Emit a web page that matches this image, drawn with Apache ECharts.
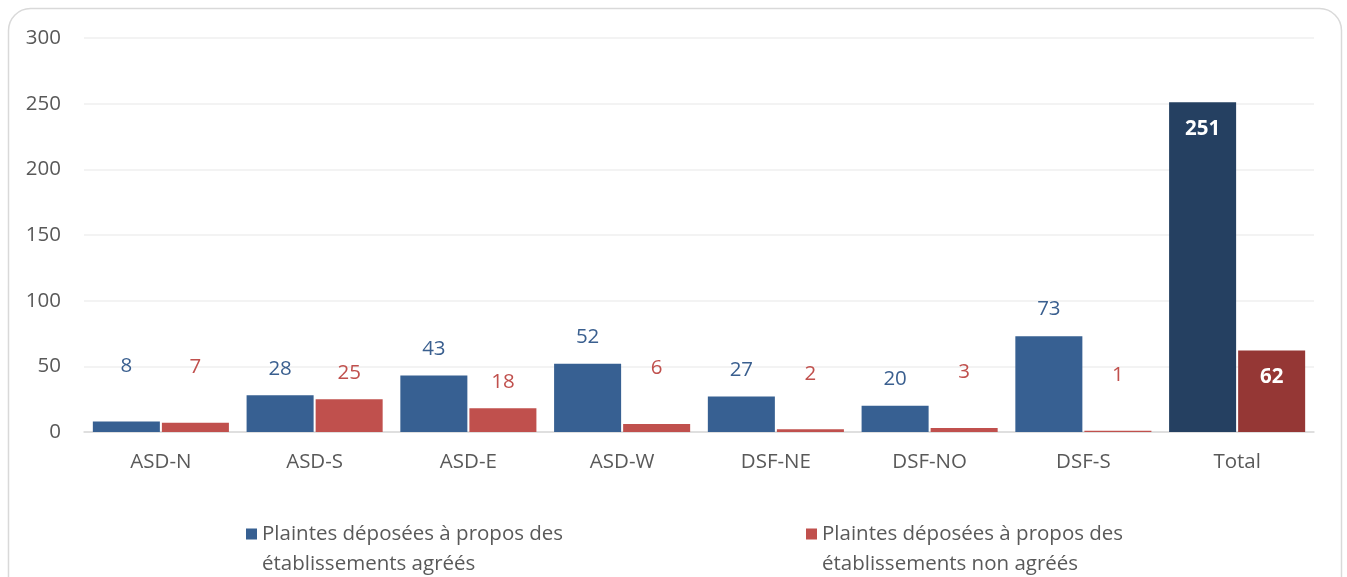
<!DOCTYPE html>
<html>
<head>
<meta charset="utf-8">
<script src="https://cdn.jsdelivr.net/npm/echarts@6/dist/echarts.min.js"></script>
<style>
  html, body { margin: 0; padding: 0; background: #fff; }
  #main { width: 1347px; height: 577px; }
</style>
</head>
<body>
<div id="main"></div>
<script>
var categories = ['ASD-N', 'ASD-S', 'ASD-E', 'ASD-W', 'DSF-NE', 'DSF-NO', 'DSF-S', 'Total'];
var agrees = [8, 28, 43, 52, 27, 20, 73, 251];
var nonAgrees = [7, 25, 18, 6, 2, 3, 1, 62];
var yTicks = [0, 50, 100, 150, 200, 250, 300];

var nameA = 'Plaintes déposées à propos des établissements agréés';
var nameB = 'Plaintes déposées à propos des établissements non agréés';

var font = 'Open Sans';
var fs = 20.5;

// petites valeurs : étiquette remontée comme dans l'original
function buildData(values, totalColor) {
    return values.map(function (v, i) {
        if (categories[i] === 'Total') {
            return {
                value: v,
                itemStyle: { color: totalColor },
                label: { position: 'insideTop', distance: 16, color: '#fff', fontWeight: 'bold' }
            };
        }
        return {
            value: v,
            label: { distance: v < 10 ? 45 : 16 }
        };
    });
}

var myChart = echarts.init(document.getElementById('main'));

var legendIcon = 'path://M0,0h0.01v0.01h-0.01z M0,9.5h11v11h-11z M0,60h0.01v0.01h-0.01z';

var option = {
    animation: false,
    textStyle: { fontFamily: font },
    graphic: [{
        type: 'rect',
        shape: { x: 8.5, y: 8.5, width: 1333, height: 620, r: 22 },
        style: { fill: 'none', stroke: '#d9d9d9', lineWidth: 1.5 },
        silent: true
    }],
    grid: { left: 84, right: 33, top: 38, bottom: 145 },
    legend: [{
        data: [nameA],
        left: 241, top: 514,
        icon: legendIcon,
        itemWidth: 11, itemHeight: 60, itemGap: 8,
        formatter: function () { return 'Plaintes déposées à propos des\nétablissements agréés'; },
        textStyle: { fontFamily: font, fontSize: fs, color: '#595959', lineHeight: 30 }
    }, {
        data: [nameB],
        left: 801, top: 514,
        icon: legendIcon,
        itemWidth: 11, itemHeight: 60, itemGap: 8,
        formatter: function () { return 'Plaintes déposées à propos des\nétablissements non agréés'; },
        textStyle: { fontFamily: font, fontSize: fs, color: '#595959', lineHeight: 30 }
    }],
    xAxis: {
        type: 'category',
        data: categories,
        axisLine: { lineStyle: { color: '#d9d9d9', width: 1.5 } },
        axisTick: { show: false },
        axisLabel: { color: '#595959', fontSize: fs, margin: 20, fontFamily: font }
    },
    yAxis: {
        type: 'value',
        min: yTicks[0],
        max: yTicks[yTicks.length - 1],
        interval: yTicks[1] - yTicks[0],
        axisLine: { show: false },
        axisTick: { show: false },
        axisLabel: { color: '#595959', fontSize: fs, margin: 23, fontFamily: font },
        splitLine: { lineStyle: { color: '#efefef', width: 1.5 } }
    },
    series: [{
        name: nameA,
        type: 'bar',
        barCategoryGap: '11.5%',
        barGap: '3%',
        itemStyle: { color: '#376092' },
        label: { show: true, position: 'top', color: '#3a5f8f', fontSize: fs, fontFamily: font },
        data: buildData(agrees, '#254061')
    }, {
        name: nameB,
        type: 'bar',
        itemStyle: { color: '#c0504d' },
        label: { show: true, position: 'top', color: '#c0504d', fontSize: fs, fontFamily: font },
        data: buildData(nonAgrees, '#953735')
    }]
};

myChart.setOption(option);
</script>
</body>
</html>
